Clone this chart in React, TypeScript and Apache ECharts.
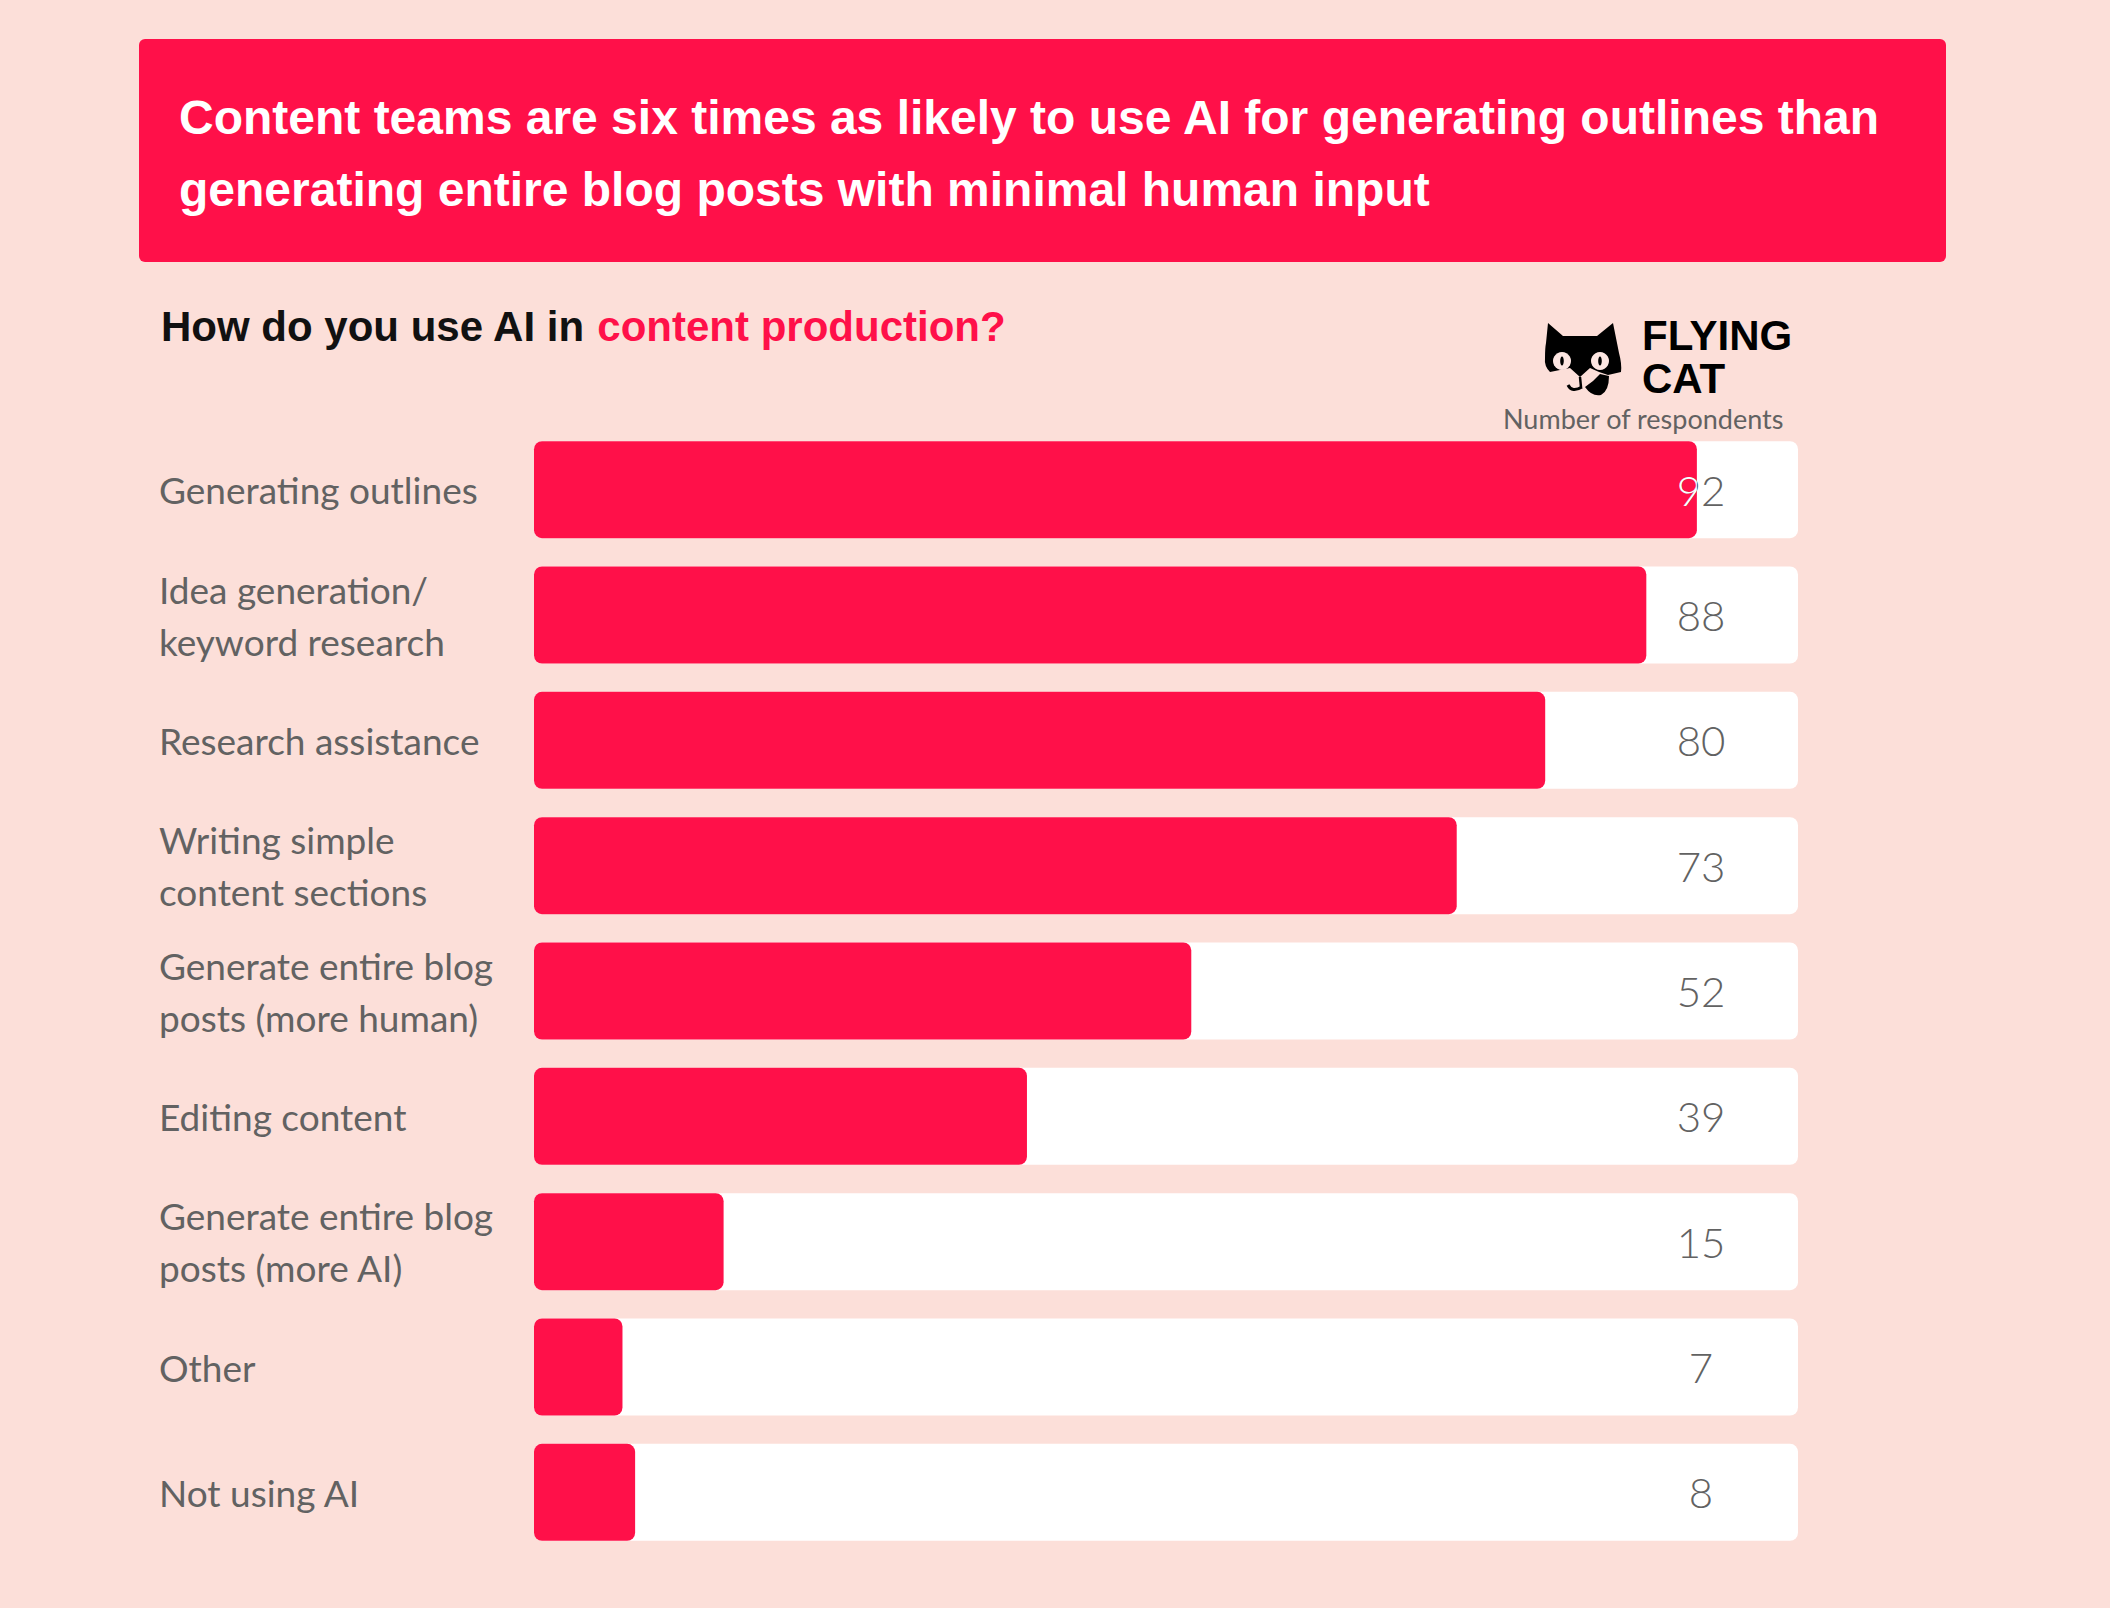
import React, { useEffect, useRef } from "react";
import * as echarts from "echarts";

const CATEGORIES = [
  "Generating outlines",
  "Idea generation/\nkeyword research",
  "Research assistance",
  "Writing simple\ncontent sections",
  "Generate entire blog\nposts (more human)",
  "Editing content",
  "Generate entire blog\nposts (more AI)",
  "Other",
  "Not using AI",
];
const VALUES = [92, 88, 80, 73, 52, 39, 15, 7, 8];
const AXIS_MAX = 100;

const TITLE = "Content teams are six times as likely to use AI for generating outlines than\ngenerating entire blog posts with minimal human input";
const SUBTITLE_A = "How do you use AI in ";
const SUBTITLE_B = "content production?";
const UNIT_LABEL = "Number of respondents";
const BRAND = "FLYING\nCAT";

const RED = "#ff1049";
const BG = "#fcdfd9";
const GREY = "#626262";
const LABEL_FONT = "Lato, 'Open Sans', sans-serif";
const SANS = "'Liberation Sans', Arial, sans-serif";

const CAT_MASK =
  "M18,13 L33,26 L67,26 L83,13 L89,43 Q92,54 91,62 L78,65 Q68,62 60,58 L50,67 L40,58 Q30,60 20,62 Q14,56 15,48 Q15,38 16,33 Z";
const CAT_CHIN = "M55,77 Q62,87 71,85 Q79,81 79,66 L70,64 Q63,72 55,77 Z";

let registered = false;

export default function App() {
  const ref = useRef<HTMLDivElement>(null);
  useEffect(() => {
    if (!ref.current) return;
    if (!registered) {
      echarts.graphic.registerShape("catMask", echarts.graphic.extendPath(CAT_MASK, {}) as any);
      echarts.graphic.registerShape("catChin", echarts.graphic.extendPath(CAT_CHIN, {}) as any);
      registered = true;
    }
    const chart = echarts.init(ref.current, null, { renderer: "svg" });
    const BAR_H = 97;
    const option: any = {
      animation: false,
      backgroundColor: BG,
      grid: { left: 534, right: 312, top: 427, bottom: 53, containLabel: false },
      xAxis: { type: "value", min: 0, max: AXIS_MAX, show: false, splitLine: { show: false } },
      yAxis: {
        type: "category",
        inverse: true,
        data: CATEGORIES,
        axisLine: { show: false },
        axisTick: { show: false },
        splitLine: { show: false },
        axisLabel: {
          align: "left",
          margin: 375,
          fontSize: 37,
          lineHeight: 52,
          color: GREY,
          fontFamily: LABEL_FONT,
        },
      },
      series: [
        {
          type: "bar",
          z: 2,
          data: VALUES,
          barWidth: BAR_H,
          itemStyle: { color: RED, borderRadius: 8 },
          showBackground: true,
          backgroundStyle: { color: "#ffffff", borderRadius: 8 },
        },
        {
          type: "custom",
          z: 10,
          data: VALUES.map((v, i) => [v, CATEGORIES[i]]),
          encode: { x: 0, y: 1 },
          renderItem: (params: any, api: any) => {
            const v = api.value(0);
            const cat = api.value(1);
            const end = api.coord([v, cat]);
            const start = api.coord([0, cat]);
            const cs = params.coordSys;
            const lx = cs.x + cs.width - 97;
            const font = {
              fontSize: 42,
              fontFamily: LABEL_FONT,
              fontWeight: 300,
              align: "center",
              verticalAlign: "middle",
            };
            return {
              type: "group",
              children: [
                { type: "text", z2: 10, style: { ...font, text: String(v), x: lx, y: end[1], fill: GREY } },
                {
                  type: "text",
                  z2: 11,
                  style: { ...font, text: String(v), x: lx, y: end[1], fill: "#ffffff" },
                  clipPath: {
                    type: "rect",
                    shape: { x: start[0], y: end[1] - BAR_H / 2, width: end[0] - start[0], height: BAR_H },
                  },
                },
              ],
            };
          },
        },
      ],
      graphic: [
        { type: "rect", left: 139, top: 39, shape: { width: 1807, height: 223, r: 6 }, style: { fill: RED } },
        {
          type: "text",
          x: 179,
          y: 81,
          style: {
            text: TITLE,
            fill: "#ffffff",
            fontSize: 48,
            fontWeight: "bold",
            fontFamily: SANS,
            lineHeight: 72,
            verticalAlign: "top",
          },
        },
        {
          type: "text",
          x: 161,
          y: 326,
          style: {
            text: "{a|" + SUBTITLE_A + "}{b|" + SUBTITLE_B + "}",
            verticalAlign: "middle",
            rich: {
              a: { fontSize: 42, fontWeight: 600, fill: "#111111", color: "#111111", fontFamily: SANS },
              b: { fontSize: 42, fontWeight: 600, fill: RED, color: RED, fontFamily: SANS },
            },
          },
        },
        {
          type: "group",
          x: 1530,
          y: 310,
          children: [
            { type: "catMask", style: { fill: "#000000" } },
            { type: "catChin", style: { fill: "#000000" } },
            { type: "circle", shape: { cx: 32, cy: 51, r: 9 }, style: { fill: "#fde6e2" } },
            { type: "circle", shape: { cx: 70, cy: 51, r: 9 }, style: { fill: "#fde6e2" } },
            { type: "ellipse", shape: { cx: 32, cy: 51, rx: 1.8, ry: 4.5 }, style: { fill: "#000" } },
            { type: "ellipse", shape: { cx: 70, cy: 51, rx: 1.8, ry: 4.5 }, style: { fill: "#000" } },
            { type: "line", shape: { x1: 50, y1: 67, x2: 51, y2: 77 }, style: { stroke: "#000", lineWidth: 2.5 } },
            {
              type: "bezierCurve",
              shape: { x1: 38, y1: 75, cpx1: 42, cpy1: 83, x2: 52, y2: 77 },
              style: { stroke: "#000", lineWidth: 3, fill: "none" },
            },
          ],
        },
        {
          type: "text",
          x: 1642,
          y: 356.5,
          style: { text: BRAND, fill: "#000", fontSize: 42, lineHeight: 43, fontWeight: "bold", fontFamily: SANS, verticalAlign: "middle" },
        },
        {
          type: "text",
          x: 1503,
          y: 418,
          style: { text: UNIT_LABEL, fill: GREY, fontSize: 27, lineHeight: 26, fontFamily: LABEL_FONT, verticalAlign: "middle" },
        },
      ],
    };
    chart.setOption(option);
    return () => chart.dispose();
  }, []);
  return <div ref={ref} style={{ position: "fixed", left: 0, top: 0, width: 2110, height: 1608 }} />;
}
